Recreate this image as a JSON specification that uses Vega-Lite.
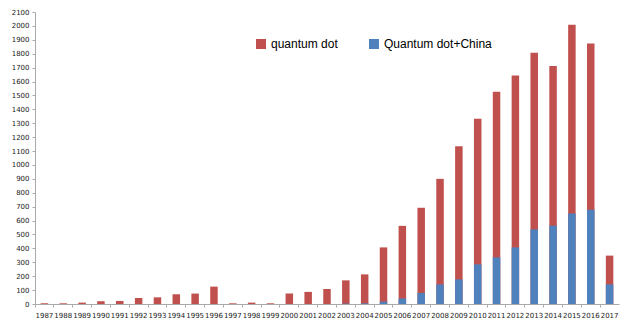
{
  "$schema": "https://vega.github.io/schema/vega-lite/v6.json",
  "width": 584,
  "height": 292,
  "autosize": "none",
  "padding": {"left": 35, "top": 12, "right": 21, "bottom": 25},
  "background": "white",
  "config": {"view": {"stroke": null}},
  "data": {"values": [
    {"year": "1987", "series": "quantum dot", "value": 5},
    {"year": "1988", "series": "quantum dot", "value": 5},
    {"year": "1989", "series": "quantum dot", "value": 10},
    {"year": "1990", "series": "quantum dot", "value": 20},
    {"year": "1991", "series": "quantum dot", "value": 22},
    {"year": "1992", "series": "quantum dot", "value": 43},
    {"year": "1993", "series": "quantum dot", "value": 48},
    {"year": "1994", "series": "quantum dot", "value": 70},
    {"year": "1995", "series": "quantum dot", "value": 75},
    {"year": "1996", "series": "quantum dot", "value": 125},
    {"year": "1997", "series": "quantum dot", "value": 5},
    {"year": "1998", "series": "quantum dot", "value": 10},
    {"year": "1999", "series": "quantum dot", "value": 5},
    {"year": "2000", "series": "quantum dot", "value": 75},
    {"year": "2001", "series": "quantum dot", "value": 87},
    {"year": "2002", "series": "quantum dot", "value": 108},
    {"year": "2003", "series": "quantum dot", "value": 170},
    {"year": "2004", "series": "quantum dot", "value": 213},
    {"year": "2005", "series": "quantum dot", "value": 407},
    {"year": "2006", "series": "quantum dot", "value": 562},
    {"year": "2007", "series": "quantum dot", "value": 692},
    {"year": "2008", "series": "quantum dot", "value": 900},
    {"year": "2009", "series": "quantum dot", "value": 1134},
    {"year": "2010", "series": "quantum dot", "value": 1333},
    {"year": "2011", "series": "quantum dot", "value": 1527},
    {"year": "2012", "series": "quantum dot", "value": 1644},
    {"year": "2013", "series": "quantum dot", "value": 1807},
    {"year": "2014", "series": "quantum dot", "value": 1711},
    {"year": "2015", "series": "quantum dot", "value": 2008},
    {"year": "2016", "series": "quantum dot", "value": 1874},
    {"year": "2017", "series": "quantum dot", "value": 348},
    {"year": "2003", "series": "Quantum dot+China", "value": 3},
    {"year": "2004", "series": "Quantum dot+China", "value": 5},
    {"year": "2005", "series": "Quantum dot+China", "value": 17},
    {"year": "2006", "series": "Quantum dot+China", "value": 40},
    {"year": "2007", "series": "Quantum dot+China", "value": 79},
    {"year": "2008", "series": "Quantum dot+China", "value": 141},
    {"year": "2009", "series": "Quantum dot+China", "value": 177},
    {"year": "2010", "series": "Quantum dot+China", "value": 285},
    {"year": "2011", "series": "Quantum dot+China", "value": 335},
    {"year": "2012", "series": "Quantum dot+China", "value": 407},
    {"year": "2013", "series": "Quantum dot+China", "value": 536},
    {"year": "2014", "series": "Quantum dot+China", "value": 563},
    {"year": "2015", "series": "Quantum dot+China", "value": 651},
    {"year": "2016", "series": "Quantum dot+China", "value": 677},
    {"year": "2017", "series": "Quantum dot+China", "value": 141}
  ]},
  "mark": {"type": "bar", "width": 7.5},
  "encoding": {
    "x": {
      "field": "year", "type": "ordinal", "title": null,
      "scale": {"paddingInner": 0, "paddingOuter": 0},
      "axis": {
        "labelAngle": 0, "labelFont": "DejaVu Sans", "labelFontSize": 7, "labelColor": "#222",
        "domainColor": "#aaa", "tickColor": "#aaa", "tickSize": 3, "labelPadding": 4,
        "bandPosition": 0, "labelOverlap": false
      }
    },
    "y": {
      "field": "value", "type": "quantitative", "title": null, "stack": null,
      "scale": {"domain": [0, 2100], "nice": false},
      "axis": {
        "values": [0,100,200,300,400,500,600,700,800,900,1000,1100,1200,1300,1400,1500,1600,1700,1800,1900,2000,2100],
        "format": "d",
        "grid": false, "labelFont": "DejaVu Sans", "labelFontSize": 7, "labelColor": "#222",
        "domainColor": "#aaa", "tickColor": "#aaa", "tickSize": 3, "labelPadding": 3
      }
    },
    "color": {
      "field": "series", "type": "nominal",
      "scale": {"domain": ["quantum dot", "Quantum dot+China"], "range": ["#C0504D", "#4F81BD"]},
      "legend": {
        "title": null, "orient": "none", "direction": "horizontal",
        "legendX": 220, "legendY": 26, "columnPadding": 30,
        "symbolType": "square", "symbolSize": 100, "symbolOpacity": 1,
        "labelFont": "Liberation Sans", "labelFontSize": 12, "labelColor": "#000"
      }
    },
    "order": {"field": "series", "sort": "descending"}
  }
}
